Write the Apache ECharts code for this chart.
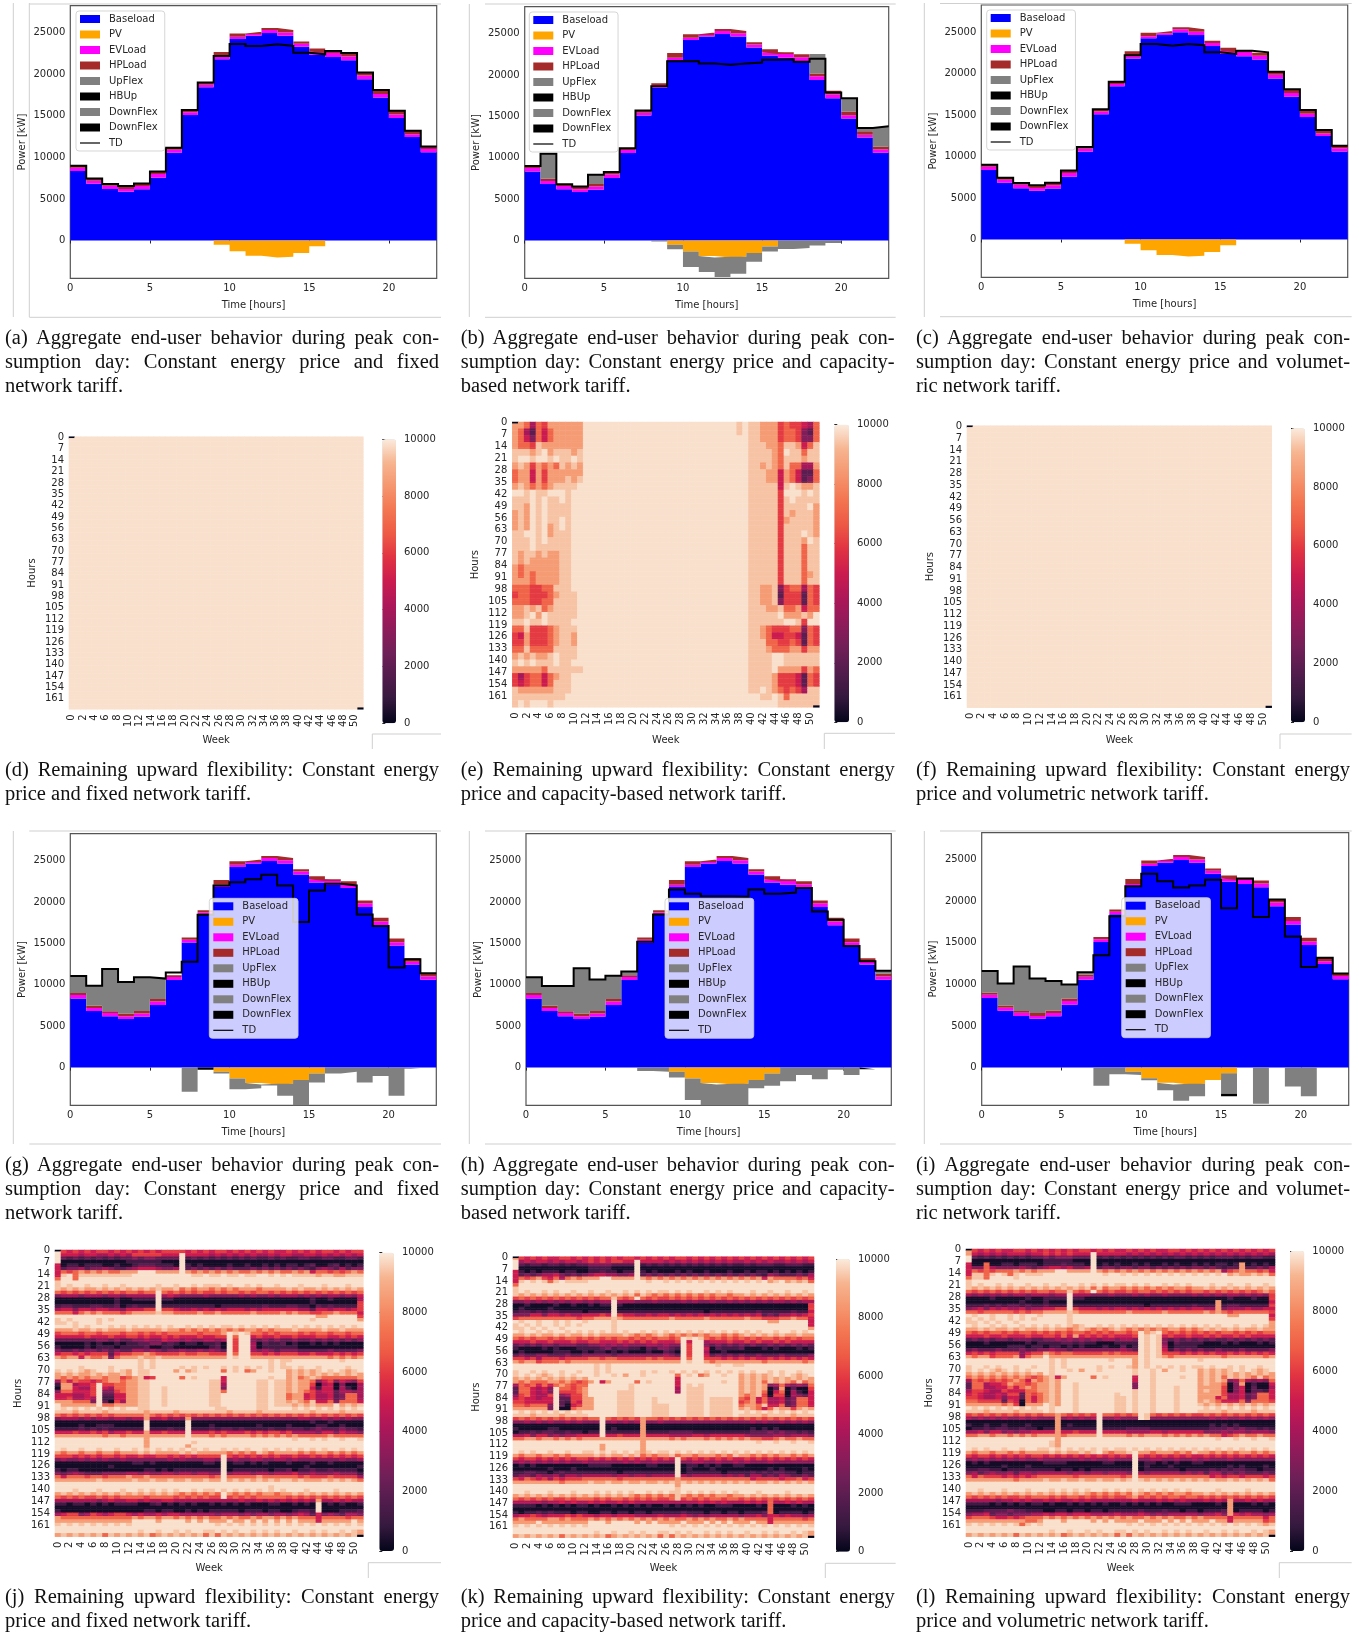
<!DOCTYPE html>
<html>
<head>
<meta charset="utf-8">
<title>Aggregate end-user behavior and remaining upward flexibility</title>
<script src="https://cdn.jsdelivr.net/npm/echarts@6/dist/echarts.min.js"></script>
<style>
html,body{margin:0;padding:0;background:#fff;}
#chart{position:absolute;left:0;top:0;width:1359px;height:1633px;}
.cap{position:absolute;font-family:"Liberation Serif",serif;font-size:20.5px;line-height:24px;height:24px;color:#111;text-align:justify;text-align-last:justify;}
.cap.last{text-align:left;text-align-last:left;white-space:nowrap;}
</style>
</head>
<body>
<div id="chart"></div>
<script>
/* ---------- hourly peak-day profile shared by all stacked panels (kW) ---------- */
const hours = ['0','1','2','3','4','5','6','7','8','9','10','11','12','13','14','15','16','17','18','19','20','21','22','23'];
const baseload = [8360,6830,6190,5870,6150,7560,10570,15100,18450,21800,24240,24640,24960,24640,23310,22350,22070,21700,19410,17200,14750,12460,10610,10610];
const evLoad   = [400,370,410,330,400,440,360,330,280,270,260,200,360,400,360,400,480,450,440,440,400,320,390,390];
const hpLoad   = [240,270,200,350,300,300,220,270,270,600,420,280,240,280,280,350,200,350,330,460,450,420,330,330];
const pvGen    = [0,0,0,0,0,0,0,0,0,-500,-1300,-1850,-2050,-1950,-1500,-700,0,0,0,0,0,0,0,0];
const noFlex   = [0,0,0,0,0,0,0,0,0,0,0,0,0,0,0,0,0,0,0,0,0,0,0,0];

const tdA = [9000,7450,6800,6550,6850,8300,11150,15700,19000,22200,23650,23400,23600,23400,22600,22400,22800,22550,20200,18100,15600,13200,11300,11300];
const tdB = [9000,10500,6800,6550,7950,8300,11150,15700,18650,21650,21700,21400,21250,21400,21500,21850,21900,21600,21950,17900,17200,13600,13800,13800];
const upB = [0,3030,0,0,1100,0,0,0,0,0,0,0,0,0,0,0,0,0,2350,0,1600,400,2450,2450];
const downB = [0,0,0,0,0,0,0,0,-120,-550,-1900,-1950,-2350,-2050,-1050,-600,-1000,-900,-600,-300,0,0,0,0];
const tdC = [9000,7450,6800,6550,6850,8300,11150,15700,19000,22200,23550,23350,23550,23400,22550,22350,22750,22550,20200,18100,15600,13200,11300,11300];
const tdG = [11050,9900,11900,10350,10900,10750,11500,12800,18450,22000,22400,22750,23300,22000,17600,21400,22200,22000,18500,17100,12100,13100,11400,11400];
const upG = [2050,2430,5100,3800,4050,2450,0,0,0,0,0,0,0,0,0,0,0,0,0,0,0,0,0,0];
const downG = [0,0,0,0,0,0,0,-2900,0,-200,-1300,-650,-100,-1450,-3200,-1100,-700,-500,-1800,-1000,-3400,-150,0,0];
const blackG = [0,0,0,0,0,0,0,0,-250,0,0,0,0,0,0,0,0,0,0,0,0,0,0,0];
const tdH = [10900,9850,9850,12000,10650,11100,11600,15200,18500,21500,21000,20700,20700,20650,21500,21000,21150,21700,18850,17850,14700,12850,11700,11700];
const upH = [1900,2380,3050,5450,3800,2800,450,0,0,0,0,0,0,0,0,0,0,0,0,0,0,0,370,370];
const downH = [0,0,0,0,0,0,0,-400,-500,-700,-2600,-2850,-2650,-2750,-1000,-1500,-1650,-900,-1400,-250,-900,0,0,0];
const blackH = [0,0,0,0,0,0,0,0,0,0,0,0,0,0,0,0,0,0,0,0,0,-200,0,0];
const tdI = [11600,10100,12150,10700,10400,10000,11450,13500,18200,21800,23300,22400,21650,21900,22600,19150,22750,18100,20200,15750,12100,13200,11300,11300];
const upI = [2600,2630,5350,4150,3550,1700,300,0,0,0,0,0,0,0,0,0,0,0,0,0,0,0,0,0];
const downI = [0,0,0,0,0,0,0,-2200,-800,-400,-250,-900,-1950,-1500,0,-2450,0,-4350,0,-2300,-3450,0,0,0];
const blackI = [0,0,0,0,0,0,0,0,0,0,0,0,0,0,0,-300,0,0,0,0,0,0,0,0];

const seriesNames = ['Baseload','PV','EVLoad','HPLoad','UpFlex','HBUp','DownFlex','DownFlex#2','TD'];
const powerTicks = [0,5000,10000,15000,20000,25000];
const colorbarTicks = [0,2000,4000,6000,8000,10000];

/* ---------- heat-map readings: one character per week (0-51), coded with the levels below ---------- */
const levelChars  = ['0','1','2','3','4','5','6','7','8','a','9'];
const levelValues = [300,1200,2000,3000,4000,5000,6000,7000,8500,9400,9830];
const zeroCells = [[0,0],[51,167]];
const flatRows = ['9999999999999 9999999999999 9999999999999 9999999999999'];
const heatE = [
'887476888888 9999999 9999999 9999999 99999a9 aa88867665 47',
'874275788888 9999999 9999999 9999999 99999a9 aa88867763 27',
'875375788888 9999999 9999999 9999999 9999999 aa88867763 37',
'8776a8888888 9999999 9999999 9999999 9999999 aaa887aa85 7a',
'aaa8a98aaa8a 9999999 9999999 9999999 9999999 aaaa879aa7 aa',
'a99a99a9aa9a 9999999 9999999 9999999 9999999 aaaa87aaa8 aa',
'8a868787a8a8 9999999 9999999 9999999 9999999 aa8a87a774 48',
'788586888888 9999999 9999999 9999999 9999999 aaa8858752 27',
'788586888a8a 9999999 9999999 9999999 9999999 aaa8858752 37',
'8a8787 8aaaa9 9999999 9999999 9999999 9999999 aaaaa5a9a8 8a',
'99a9aa99 9a99 9999999 9999999 9999999 9999999 aaaaa69 99a 9a',
'aaa9a9aa9a99 9999999 9999999 9999999 9999999 aaaaa6a9aa aa',
'aa89a9aaaa99 9999999 9999999 9999999 9999999 aaaaa6aaaa 98',
'8a89a9aaaa99 9999999 9999999 9999999 9999999 aaaaa6a8aa a8',
'8a89a9aa9a99 9999999 9999999 9999999 9999999 aaaaa68aaa a8',
'8a89a98a9a99 9999999 9999999 9999999 9999999 aaaaa6aaaa a8',
'aa99a98aaa99 9999999 9999999 9999999 9999999 aaaaa6aaa9 a8',
'aaa9a9aaaa99 9999999 9999999 9999999 9999999 aaaaa6aaa8 9a',
'aaa9aaaaaa99 9999999 9999999 9999999 9999999 aaaaa6aaa7 aa',
'a8aa8a88aa99 9999999 9999999 9999999 9999999 aaaaa6aaa7 aa',
'a8a88888aa99 9999999 9999999 9999999 9999999 aaaaa6aaa7 aa',
'878888 88aa99 9999999 9999999 9999999 9999999 aaaaa6aaa7 aa',
'878788 88aa99 9999999 9999999 9999999 9999999 aaaaa6aaa7 8a',
'888788 88aa99 9999999 9999999 9999999 9999999 aaaaa6aaa7 aa',
'777667 7aaa99 9999999 9999999 9999999 9999999 aa88a36774 76',
'677666 78aaa9 9999999 9999999 9999999 9999999 aa88a26662 76',
'777667 7aaaa9 9999999 9999999 9999999 9999999 aa88a36662 76',
'88a8a7 8aaaa9 9999999 9999999 9999999 9999999 aaa88a7785 77',
'88a98 9aaaaa9 9999999 9999999 9999999 9999999 aaaaa98 88a 89',
'aa9aa9aaaa99 9999999 9999999 9999999 9999999 aaaaaa99a6 99',
'77a666 78aaa9 9999999 9999999 9999999 9999999 aa87666773 76',
'658666 78aa89 9999999 9999999 9999999 9999999 aa87556652 76',
'668666 78aa89 9999999 9999999 9999999 9999999 aaa7766762 76',
'77a777 7aaaa9 9999999 9999999 9999999 9999999 aaa8777886 88',
'8a8a88 a9aaa9 9999999 9999999 9999999 9999999 aaaa99aaaa aa',
'a9a9aa a9aa99 9999999 9999999 9999999 9999999 aaaa99aaaa aa',
'888887 aaaaaa 9999999 9999999 9999999 9999999 aaaa988886 87',
'646775 78aa99 9999999 9999999 9999999 9999999 aaaa866652 76',
'656775 7aaa99 9999999 9999999 9999999 9999999 aaaa866652 76',
'a88888 8aaa99 9999999 9999999 9999999 9999999 aa9a876764 aa',
'aaaaaa aaa999 9999999 9999999 9999999 9999999 99aa9a7aaa aa',
'a9a999 a99999 9999999 9999999 9999999 9999999 99999aaaaa aa'
];
const heatJ = [
'9656565665656 5656566665656 5665656565655 6565656656566',
'9555455445454 6666655595555 4545454544545 5445545454545',
'9212121212122 3233222291212 1212121211212 1122112211221',
'9000000000001 1111100090000 0000000000000 0000000000000',
'5011011100100 1222111091010 0001001001010 1101200120101',
'5233423343223 4555433492323 2323222323232 3232134324233',
'5767878787788 8999888898787 8787877878787 7878577676787',
'5a97aaaaaaaaa 9999999999aa9 aa9aa9aa99a9a 9aaaa8aa88aaa',
'7997999999999 9999999999999 9999999999999 9999999999999',
'a999999999999 9999999999999 9999999999999 9999999999999',
'a9a99a99a99a9 9999a99a99a9a aa9a99a9a99a9 99a999a999a99',
'a8a8a88a8a8a8 a8a8a88a78788 7878788878888 a8a88a8a8a8a8',
'7676767676767 7677976767676 6767767677676 7676767676767',
'3444344434434 4444945433334 3333343433434 4434343443435',
'0000000000100 1111911000000 0000000000000 0000100100004',
'0000000000100 0000900000000 0000000000000 0000100000006',
'1221112211201 2111911111111 1011111112111 2211021211116',
'4553554554435 5566966544545 4545554545555 5544255455456',
'7775787877767 8888a88777787 7877777877778 7877667787775',
'9999999999999 9999999999999 9999999999999 9999988999996',
'a9a9999a9a999 9999999999999 9999999999999 9999a99999998',
'aa9a999a99999 9999999999999 9999999999999 9999999999999',
'999a9a999a9a9 a9a9a9a99a9a9 a9aa9a9a9a9a9 9a9a9a9a9a9a9',
'888a88a8a888a 88888a8878787 8787878878788 8a8888a88a888',
'6777677677767 7676767777767 7789a9a776767 7767677677677',
'5555565556556 6565565655565 5669799565565 5655566556565',
'2222222332322 3343354434334 4349699323232 2322323232323',
'0000010100101 1223312101101 1209699402112 0100101010000',
'1000010111011 1120011000000 1209699401111 1100000000000',
'3223233232322 4434323343343 4329699434323 3322222322223',
'5665656662566 7787666676677 6669799665656 6655655565656',
'8788587783788 8a88a88888888 8889a99888888 8888888787878',
'9999999999999 9a9a999999999 9999999999a9a a99999999a999',
'9999999999999 9a9a999999999 9999999999a9a 9999999999999',
'9999a9999a999 9a9a9999a9a9a 99a9a9a9a9a9a a9a99a9999a99',
'a9a9a8a99a9a8 9aa9999898a99 9979a97899a99 8a8a8a9a9a8a9',
'8a8a88a8a88a8 9aa9999999999 9999999999999 8a8a8a8a8a8a8',
'8787878878867 8a56999979a99 9959999999a99 8a78a87777778',
'4757665678878 8aa9999999999 aa599999aa9aa 8a88735635436',
'1884556966778 8aa9999999999 aa499999aa9aa 8a88604503004',
'0885446954778 8aa99a9999999 aa399999aa9aa 8a88515504104',
'3775556933678 8aa99a9999999 aa799999aa9aa 8a87645524434',
'5554456922558 8aa99a9999999 aa999999aa9aa 7885644523774',
'5564454911558 8aa99a9999999 aa999999aa9aa 7885644523774',
'8887773920648 8aa99a9999999 aa999999aa9aa 8a87a55737775',
'9888888977888 8aa99a9999999 aa999999aa9aa a8a8a88898a8a',
'9a9a9a9a9a9a9 9aa9999999999 9aa99999aa999 9a9a9a9a9a9a9',
'aaa8aaaa8aaaa aa8aaaa8aaaaa aaa8aaaa8aaaa aaaa8aaaa8aaa',
'7676767676777 7787676767676 7676767676767 6767676767676',
'3444343443443 4484453438333 3333333333333 3344334343433',
'0000000000000 0090000009000 0000000000000 0000100100000',
'0000100111000 0090000009000 1000000010000 1000011001000',
'1111212121111 1191112119111 2122121111211 2221232223221',
'5556556564556 5585565559555 6565556565665 6444435535443',
'8888888878878 8888888889888 7878888787878 7877777877777',
'9999999999999 9989999999999 9999999999999 9a99a9a99a99a',
'9999999999999 9989999999a99 9999999999999 9999999999999',
'9999999999999 9989999998999 9999999999999 9999999999999',
'9a99a99a99a99 a9a9a9a9a9a9a 99a9a9a99a9a9 a9a9a9a99a9a9',
'8788788788788 8a8a8888a8a88 88878787a8788 8878788787878',
'6665656566565 5655665656566 6696565656565 5655656565656',
'3433434343343 3333334343334 4393433443344 3433333334334',
'0000000000000 1101000000001 1090110101000 1000100100000',
'0000000001000 0000000000000 0090000000000 0001000000001',
'1011000000000 0011010111111 1190111111011 2011211211110',
'3234322233334 4343344344344 3393444344344 4533433343331',
'7577767767778 7787777777777 6797777787777 7767666766664',
'8888888a88888 a88a88a88a88a 8898a8a8a8a8a a8a888a8a8a87',
'9999999999999 9999999999999 9999999999999 9999999999999',
'9999999999999 9999999999999 9999999999a99 9999999999999',
'999a999a999a9 9a9a9a9a99a9a a9a9a9a9a9a9a 999a9999a9999',
'8a8a8a8a8a8a8 a8a8a8a878787 8798787878878 8a8a8a8a8a8a8',
'7676766767677 7767777676767 6696767677777 6767676767676',
'4444444345445 5454455444444 4444454454545 4545484454544',
'1101101010111 1001201010100 1010101000110 0101090101001',
'0000000000000 0000000000000 0000000000000 0000090000000',
'1000000000000 0011011001010 1111101110110 0122190001112',
'4566346545665 4544545544444 4344434344344 3454253432443',
'8777777777777 8788788787878 7787877878878 7877757777677',
'8888888888888 9999899998989 8889889898989 8988858888898',
'a9a9a9a9a9a9a 9999999999999 9a9a9a9a9a9a9 a9a9a9a9a9a9a',
'9999999999999 9999999999999 9999999999999 9999999999999',
'9999999999999 9a99a99a9a99a a9a9a99a9a9a9 9a99a9a99a9a8',
'8a8a8a8a7a8a8 a8a78a8a8a8a7 a7a8a8a8a8a8a 8a8a8a8a8a8a8'
];
const heatK = [
'8656565566565 6565656656565 6566565656565 6565656565656',
'9454554545545 6565665595555 4545454545454 4545454454545',
'9212212212122 3333222291212 1212121212121 1212221122211',
'9000000000000 1111000090000 0000000000000 0000000000000',
'5101011101100 1121101191010 0010100100010 0101101010101',
'5232344532323 4554433492323 2323232323232 3232143222324',
'5767865747878 8899888898787 8787878787878 7878587777675',
'5a9a9a7a9aaaa 9999999999a99 a9a9a9a9a9a9a 9a9a98a98a8a7',
'7999999999999 9999999999999 9999999999999 9999999999999',
'a999999999999 9999999999999 9999999999999 9999999999999',
'a9a99a9a99a99 a99a99a9a9a9a a9a9a99a9a9a9 99a99a99a99a9',
'a8a8a8a8a8a8a 8a8a8a8a7a878 7878787878878 8a8a8a8a8a8a8',
'6767676767676 7677a76797676 6767676767676 7676767676767',
'3343434343443 4344944433343 3334343343343 4343434434344',
'0010000100100 1011910000000 0000000000000 0000000000006',
'0100001000000 0000900000000 0000000000000 0000000000006',
'1221212211110 1111911111111 1111111011111 1112111112115',
'3335535545445 5565965544545 5454545454545 4545232445456',
'6777777777767 7888a87777777 7877777877777 7877666778775',
'9a99a99a9a99a 9999a99999999 9999999999999 9999988999995',
'a9a9a99a9a9a9 9999a99999999 9999999999999 9999999999995',
'aa9a9a99a9999 9999a99999999 9999999999999 9999999999998',
'9a99a9a99a9a9 a9a9a9a99a9a9 a9a9a9a9a9a9a 9a9a99a99a9a9',
'88a8a88a8a88a 8a8888a87878a 8787878788787 8a8a8a8a88a88',
'7676776767767 6767677676767 7679a9a767676 7676776767677',
'5556556555655 6655565656565 5569599455565 5656556565555',
'2323233233322 3343434333443 4339699323232 3232232323232',
'1000010100011 1123122110213 3219699502111 2000101000101',
'0100000111001 0110101000100 2109699400100 0000000000000',
'2322332223223 3333233333333 4329699523232 3223222322223',
'6656466656666 7767766666767 6669799666565 6565565656565',
'8788677787888 8888888888888 8889a99878888 8888788888878',
'9999999999999 9a9a999999999 999999999a99a a999999999999',
'9999999999999 9a9a999999999 9999999999999 9999999999999',
'a99a9a99a99a9 9a9a9999 9a9a9 9a9a9a9a9a9a9 a9a99a9a99a99',
'a9a9a8a9a9a99 9a99a9899a999 9979a97899a99 8a8a8a9a9a8a9',
'8a8a8a8a8a8a8 9999999999999 9959999999999 8a8a8a8a8a8a8',
'8787778878767 8958999979a99 9959999999a99 8a8a7a8a87a78',
'4767575787677 9999999a99999 9959a9a999999 8a8a834743437',
'2775453977678 9999999a99999 9949aaa999999 8a8a802802006',
'2775453966678 99999aaa99999 9949aaa999999 8a8a705704105',
'3675446934668 99999aaa99999 9999aaa999999 878a606604325',
'5655455922668 89999aaa999a9 9999aaa9aaaa9 7685744523775',
'6655555921658 89999aaa999a9 9999aaa9aaaa9 6785744523775',
'7767773920568 89999aaa999aa a999aaa9aaaa9 7887a55723775',
'8888883900788 89999aaa999aa a999aaa9aaaa9 8a8757a8868a8',
'9a9a9a9a9a9a9 99999aaa999aa a999aaa9aaaa9 9a9a9a9a9a9a9',
'aaa8aaaa8aaaa 99999aaa999aa a999aaa9aaaa9 aaaa8aaaa8aaa',
'6767676767676 7797676768776 7676767676767 6767676767676',
'3343434334343 3393434348334 3333333333333 3343433434343',
'0000000000000 0090000008000 0000000000000 0000000000000',
'1000001100000 0090100008000 0000000000000 0010101000000',
'0112122112110 1191111118111 1222211111111 1122232322121',
'4453553434455 5595565558555 5444455455555 5433334434443',
'7788788787878 8888888888888 8787888787878 7877667877877',
'9999999999999 9999999998999 9999999999999 999a99a99a99a',
'9999999999999 9989999998999 9999999999999 9999999999999',
'9999999999999 9989999998999 9999999999999 9999999999999',
'9a9a99a99a99a a9a9a9a9a8a9a a9a9a9a9a9a9a 9a9a9a9a9a9a9',
'8788788787888 8a8a88a8a7878 8a7887888787a 8878787887878',
'6566565656566 5656565656565 6596565656565 5656565656565',
'3434343434334 3333334343343 3393344334334 3433343333333',
'0101000000000 1111000000110 0090110101001 1000000000000',
'0000001000100 0000000000000 0090100010000 0000010100010',
'1122110121111 1111101111111 1190111111011 1121212211011',
'2332433424434 4444344344344 4494344444343 4244232432232',
'6576564656667 7777767777777 7787777777777 7756666566756',
'8888888878888 a88a88a88a88a 8a8a8a8a8a8a8 a8a88a8a8a8a8',
'9999999999999 9999999999999 9989999999999 9999999999999',
'9999999999999 9999999999999 99a9999999999 9999999999999',
'99a999a999a99 9a9a9a9a99a9a 9aa9a9a9a9a9a 999a9999a9999',
'8a8a8a8a8a8a8 a8a8a8a878787 87a8787878878 8a8a8a8a8a8a8',
'7676767667677 7676776767676 67a6767677677 6767676767676',
'4444434454544 5454454544444 4444445454544 4545474454544',
'1111010101011 0100101010100 1010101001110 0001070001010',
'0000000000000 0000000000000 0000000000000 0000070000000',
'1011212111011 0011011011011 1112111011011 0111270111101',
'4556545556565 5455455544445 4445434344444 3445355454434',
'7877778878777 8787878787878 7877878787787 8777757777767',
'8888988888888 9998999989898 8889888989898 8898858888888',
'a9a9a9a9a9a9a 9999999999999 9a9a9a9a9a9a9 a9a9a9a9a9a9a',
'9999999999999 9999999999999 9999999999999 9999999999999',
'9999999999999 9a99a99a9a99a a9a9a99a9a9a9 9a99a9a99a9a8',
'8a8a8a8a7a8a8 a8a78a8a8a8a7 a7a8a8a8a8a8a 8a8a8a8a8a8a8'
];
const heatL = [
'8656565566565 6565656656565 5656565566565 6565656565656',
'8545454555455 6565655595555 5454545454545 4545454545454',
'9212121212122 3233322291212 1212121212212 1212221212211',
'9000000000000 1111100090000 0000000000000 0000000000000',
'5007001101110 1112111090101 0010100101001 0101101801010',
'5337433334323 4554533492332 3323323232323 3232122822324',
'5767677787878 8899888898787 8787878787878 7878467877675',
'5aa7a9a7a9aaa 9999999999a99 a9a9a9a9a9a9a 9a9a98a88a8a7',
'7aa79999a9999 9999999999999 9999999999999 9999999999999',
'a999999999999 9999999999999 9999999999999 9999999999999',
'a9a99a9a99a99 a99a99a9a9a9a a9a9a99a9a9a9 99a99a99a99a9',
'a8a8a8a8a8a8a 8a8a8a8a7a788 7878787878878 8a8a8a8a8a8a8',
'7676767676767 7677a76797676 6767767676767 7676767676787',
'4343434344344 4344944433343 3343433433334 3434344343436',
'0000100000100 1111911000000 0000000000000 0000010001006',
'0000000001000 1000900000000 0000000000000 0008000000005',
'1112121221211 2111911111111 1111011111112 1118122111116',
'3453545445344 5566965554545 5454545454545 5448344454455',
'7767777767677 8888a87777777 7877777877777 7878767777776',
'9a99a99a9a99a 9999a99999999 9999999999999 9999988999995',
'a9a9a99a9a9a9 9999a99999999 9999999999999 9999999999996',
'aa9a9a99a9999 9999a99999999 9999999999999 9999999999998',
'9a99a9a99a9a9 a9a9a8a99a9a9 a9a9a9a9a9a9a 9a9a99a99a9a8',
'88a8a88a8a88a 8a8878a87878a 8787878788787 8a8a8a8a88a88',
'7676776767767 6767677676767 76798a9767676 7676776767677',
'5556556555655 6657585656565 5569a9a565565 5656556565555',
'2323233233322 3343434343443 4439a9a323232 3232232323232',
'0001000000101 1112212110001 1119a9a302111 1000101000101',
'0000000111011 0110101000100 2019a9a401111 0000000000000',
'2322232223223 3433233333333 4329a9a513232 3223222322223',
'5656566663566 8767766666767 6669a9a666565 6565565656565',
'8788677784788 9888888888888 8889a9a878888 8888788888878',
'9999999999999 9a9a9999999a9 9989a99999999 a999999999999',
'9999999999999 9a9a999999999 9989a99999999 9999999999999',
'a99a9a99a99a9 9a9a9999 9a9a9 9a89a9a9a9a9a a9a99a9a99a99',
'a9a9a8a9a9a99 9a99a9899a999 99a99a9899a99 8a8a8a9a9a8a9',
'8a8a8a8a8a8a8 9a99999999999 99a99a9999999 8a8a8a8a8a8a8',
'7878787878767 8a58999979a99 99599a9999a99 8a8a7a8a87a78',
'4767676787587 8a89999999999 99599a9999999 8a8a834743437',
'2774556877678 8a899a9999999 99399a9999999 8a88703801005',
'2774455757878 8a899a9999999 99399a999a999 8888603502004',
'4665446555778 8a899a9999999 99a99a999a999 8a88603502215',
'5654454662767 8a899a999999a 99a99a999a999 8888644523775',
'6654453552757 8a899a999999a a9a99a999a999 8885744523775',
'7766662650757 8a899a999999a a9a99a999a999 8a87555737776',
'8888887860888 9a899a999999a a9a99a999a999 a8a8a8a8a8a8a',
'9a9a9a9a9a9a9 9a999a999999a a9a99a999a999 9a9a9a9a9a9a9',
'aaa8aaaa8aaaa 9a999a999999a a9a99a999a999 aaaa8aaaa8aaa',
'6767676767676 7787676769776 7679a76767676 6767676767676',
'4343434334343 3383434349334 3339a33333333 3343433434343',
'0000000000000 0080000009000 0000000000000 0000000000000',
'1001001000100 0080100009000 0000000000000 0010101000000',
'0112122112110 1181111119111 1222211111111 1122232322121',
'4453553434455 5585565559555 5444455455555 5333434434443',
'7788788787878 8887888889888 8787888787878 7877567877877',
'9999999999999 9989999999999 9999999999999 999a99a99a99a',
'9999999999999 9a89999999999 9999999999999 9999999999999',
'9999999999999 9a89999999999 9999999999999 9999999999999',
'9a9a99a99a99a a9a9a9a9a9a9a a9a9a9a9a9a9a 9a9a9a9a9a9a9',
'8788788787888 8a8a88a8a9878 8a9887888787a 8878787887878',
'6566565656566 5656565656565 6596565656565 5656565656565',
'3434343434334 3333334343343 3393344334334 3433343333333',
'0101000000000 1111000000110 0090110101001 1000000000000',
'0000001000100 0000000000000 0090100010000 0000010100010',
'1122110111111 1101101011111 1190111111011 1121212211011',
'3423433424434 4444344344344 4394344444343 4244232322232',
'7576665656567 7777767777777 6797777777777 7756566566656',
'8888888878888 a88a88a88a88a 8a9a8a8a8a8a8 a8a88a8a8a8a7',
'9999999999999 9999999999999 9999999999999 9999999999999',
'9999999999999 9999999999999 9999999999999 9999999999999',
'99a999a999a99 9a9a9a9a99a9a 9a9a9a9a9a9a9 999a9999a9999',
'8a8a8a8a8a8a8 a8a8a8a878787 87a8787878878 8a8a8a8a8a8a8',
'7676767667677 7676776767676 6786767677677 6767676767676',
'4444434454544 5454454544444 4454445454544 4545484454544',
'1111010101011 0100101010100 1010101001110 0001080001010',
'0000000000000 0000000000000 0000000000000 0000080000000',
'1112222322111 0011011011011 1112111211011 0111280111101',
'3445233233344 5455455544445 4445434344444 3445385454434',
'6777655656777 8787878787878 7877878787787 8777757777757',
'8888888888778 9998999989898 8889888989898 8898858888867',
'a9a9a9a9a7a9a 9999999999999 9a9a9a9a9a9a9 a9a9a9a9a9a8a',
'9999999999999 9999999999999 9999999999999 9999999999999',
'9999999999999 9a99a99a9a99a a9a9a99a9a9a9 9a99a9a99a9a8',
'8a8a8a8a7a8a8 a8a78a8a8a8a7 a7a8a8a8a8a8a 8a8a8a8a8a8a8'
];

/* ---------- captions ---------- */
const captions = {
  a:['(a) Aggregate end-user behavior during peak con-','sumption day: Constant energy price and fixed','network tariff.'],
  b:['(b) Aggregate end-user behavior during peak con-','sumption day: Constant energy price and capacity-','based network tariff.'],
  c:['(c) Aggregate end-user behavior during peak con-','sumption day: Constant energy price and volumet-','ric network tariff.'],
  d:['(d) Remaining upward flexibility: Constant energy','price and fixed network tariff.'],
  e:['(e) Remaining upward flexibility: Constant energy','price and capacity-based network tariff.'],
  f:['(f) Remaining upward flexibility: Constant energy','price and volumetric network tariff.'],
  g:['(g) Aggregate end-user behavior during peak con-','sumption day: Constant energy price and fixed','network tariff.'],
  h:['(h) Aggregate end-user behavior during peak con-','sumption day: Constant energy price and capacity-','based network tariff.'],
  i:['(i) Aggregate end-user behavior during peak con-','sumption day: Constant energy price and volumet-','ric network tariff.'],
  j:['(j) Remaining upward flexibility: Constant energy','price and fixed network tariff.'],
  k:['(k) Remaining upward flexibility: Constant energy','price and capacity-based network tariff.'],
  l:['(l) Remaining upward flexibility: Constant energy','price and volumetric network tariff.']
};

/* ---------- layout and style ---------- */
const seriesColors = ['#0000ff','#ffa500','#ff00ff','#a52a2a','#808080','#000000','#808080','#000000','#000000'];
const rocket = ['#03051a','#35193e','#521c4c','#701f57','#8f1b5a','#ad1759','#cb1b4f','#e13342','#ee5a45','#f37651','#f5966f','#f6b48f','#faebdd'];
const TXT = '#262626', FONT = '"DejaVu Sans",sans-serif';

const stackPanels = [
 {box:[70.3,5.7,436.7,278.3], leg:[76,11],   td:tdA, up:noFlex, down:noFlex, black:noFlex},
 {box:[524.7,6.7,888.7,278.3], leg:[529.3,12], td:tdB, up:upB, down:downB, black:noFlex},
 {box:[981.3,5,1347.7,277.3], leg:[986.7,10], td:tdC, up:noFlex, down:noFlex, black:noFlex},
 {box:[70.3,833.7,436.3,1105.3], leg:[209.3,898.3], td:tdG, up:upG, down:downG, black:blackG},
 {box:[526,833.7,891.3,1105.3], leg:[665,898.3], td:tdH, up:upH, down:downH, black:blackH},
 {box:[981.7,832.7,1348.7,1105.3], leg:[1121.7,897.7], td:tdI, up:upI, down:downI, black:blackI}
];
const heatPanels = [
 {box:[69,436.7,363.3,709.3], bar:[382.3,439.3,396,723.3], rows:flatRows, span:168, weekGap:25.7},
 {box:[512.3,422,819.3,707.3], bar:[834.3,424.7,849,722.3], rows:heatE, span:4, weekGap:28},
 {box:[967,425.7,1271.7,707.7], bar:[1291,428.3,1305,722.3], rows:flatRows, span:168, weekGap:27.6},
 {box:[55,1250,363.3,1536.7], bar:[379.3,1252.7,394,1551], rows:heatJ, span:2, weekGap:27},
 {box:[513,1256.7,814,1537.7], bar:[836,1259,850,1551.7], rows:heatK, span:2, weekGap:26},
 {box:[966,1249,1275,1536.7], bar:[1290,1251,1304.3,1551], rows:heatL, span:2, weekGap:27}
];
/* pale crop-edge rules visible in the reference: [x1,y1,x2,y2] */
const edgeRules = [
 [13.3,3,13.3,317],[29.3,3,29.3,317],[29.3,4,441,4],[29.3,317.3,441,317.3],
 [469.3,4,469.3,317],[485,4,895.7,4],[485,317.3,895.7,317.3],
 [924.3,3,924.3,317],[940,3.5,1351.7,3.5],[940,316.7,1351.7,316.7],
 [13.3,831,13.3,1144],[29.3,831,441,831],[29.3,1144,441,1144],
 [469.3,831,469.3,1144],[485,831,895.7,831],[485,1144,895.7,1144],
 [924.3,831,924.3,1144],[940,831,1351.7,831],[940,1144,1351.7,1144],
 [372.3,734,441,734],[372.3,734,372.3,749],[824.3,733.3,895,733.3],[824.3,733.3,824.3,749],
 [1280,734,1351.7,734],[1280,734,1280,749],[368.3,1562.7,441,1562.7],[368.3,1562.7,368.3,1578],
 [825.3,1563.3,895.7,1563.3],[825.3,1563.3,825.3,1578],[1279.3,1562.7,1351.7,1562.7],[1279.3,1562.7,1279.3,1578]
];
const captionSpots = [
 ['a',5,336.5],['b',460.7,336.5],['c',916,336.5],
 ['d',5,768.5],['e',460.7,768.5],['f',916,768.5],
 ['g',5,1164.3],['h',460.7,1164.3],['i',916,1164.3],
 ['j',5,1595.7],['k',460.7,1595.7],['l',916,1595.7]
];

/* ---------- build option ---------- */
const grid=[], xAxis=[], yAxis=[], series=[], legend=[], visualMap=[];
const plain = v => String(v);
const gridOf = b => ({left:b[0],top:b[1],width:b[2]-b[0],height:b[3]-b[1],show:false});
/* hours with no flexibility are left empty, so no zero-height hairline is drawn */
const blocksOnly = vals => vals.map(v => v!==0 ? v : null);

stackPanels.forEach((p,pi)=>{
  const gi = grid.length;
  grid.push(Object.assign(gridOf(p.box),{show:true,borderColor:'#555',borderWidth:1.2,backgroundColor:'transparent'}));
  xAxis.push({type:'category',gridIndex:gi,data:hours,boundaryGap:false,name:'Time [hours]',nameLocation:'middle',nameGap:22,
    nameTextStyle:{fontSize:10,color:TXT,fontFamily:FONT},
    axisLine:{show:false},splitLine:{show:false},
    axisTick:{length:3,alignWithLabel:true,interval:4,lineStyle:{color:TXT}},
    axisLabel:{fontSize:10,color:TXT,fontFamily:FONT,margin:5,interval:4}});
  yAxis.push({type:'value',gridIndex:gi,min:-4550,max:28250,name:'Power [kW]',nameLocation:'middle',nameGap:43,
    nameTextStyle:{fontSize:10,color:TXT,fontFamily:FONT},
    axisLine:{show:false},splitLine:{show:false},
    axisTick:{length:3,lineStyle:{color:TXT},customValues:powerTicks},
    axisLabel:{fontSize:10,color:TXT,fontFamily:FONT,margin:5,customValues:powerTicks,formatter:plain}});
  const layers = [baseload,blocksOnly(pvGen),evLoad,hpLoad,blocksOnly(p.up),blocksOnly(noFlex),blocksOnly(p.down),blocksOnly(p.black)];
  layers.forEach((vals,li)=>{
    series.push({type:'line',name:seriesNames[li],xAxisIndex:gi,yAxisIndex:gi,stack:'panel'+pi,step:'end',
      symbol:'none',showSymbol:false,silent:true,animation:false,
      lineStyle:{width:0,color:seriesColors[li]},itemStyle:{color:seriesColors[li]},
      areaStyle:{color:seriesColors[li],opacity:1},
      data:vals});
  });
  series.push({type:'line',name:'TD',xAxisIndex:gi,yAxisIndex:gi,step:'end',symbol:'none',showSymbol:false,silent:true,animation:false,z:6,
    lineStyle:{width:2,color:'#000',join:'miter'},itemStyle:{color:'#000'},
    data:p.td});
  legend.push({orient:'vertical',left:p.leg[0],top:p.leg[1],padding:[3,7,3,4],itemWidth:20,itemHeight:8,itemGap:5.5,
    backgroundColor:'rgba(255,255,255,0.8)',borderColor:'rgba(204,204,204,0.8)',borderWidth:1,borderRadius:3,
    selectedMode:false,z:20,
    textStyle:{fontSize:10,color:TXT,fontFamily:FONT,lineHeight:10,padding:[0,0,0,4]},
    formatter:n=>n.replace('#2',''),
    data:seriesNames.map((n,i)=>({name:n,
      icon:n==='TD'?'path://M0 0H20V1.2H0Z':'rect',
      itemStyle:{color:seriesColors[i],borderWidth:0}}))});
});

heatPanels.forEach(p=>{
  const gi = grid.length;
  grid.push(gridOf(p.box));
  xAxis.push({type:'category',gridIndex:gi,data:Array.from({length:52},(_,i)=>String(i)),name:'Week',nameLocation:'middle',nameGap:p.weekGap,
    nameTextStyle:{fontSize:10,color:TXT,fontFamily:FONT},
    axisLine:{show:false},splitLine:{show:false},
    axisTick:{length:3,alignWithLabel:true,interval:1,lineStyle:{color:TXT}},
    axisLabel:{fontSize:10,color:TXT,fontFamily:FONT,interval:1,rotate:90,margin:5}});
  yAxis.push({type:'category',gridIndex:gi,inverse:true,data:Array.from({length:168},(_,i)=>String(i)),name:'Hours',nameLocation:'middle',nameGap:32,
    nameTextStyle:{fontSize:10,color:TXT,fontFamily:FONT},
    axisLine:{show:false},splitLine:{show:false},
    axisTick:{length:3,alignWithLabel:true,interval:6,lineStyle:{color:TXT}},
    axisLabel:{fontSize:10,color:TXT,fontFamily:FONT,interval:6,margin:5}});
  const cells=[];
  p.rows.forEach((row,ri)=>{
    const weeks=row.replace(/ /g,'');
    for(let hh=0;hh<p.span;hh++){
      const hour=ri*p.span+hh;
      for(let w=0;w<52;w++){
        const isZero=zeroCells.some(z=>z[0]===w&&z[1]===hour);
        const lv=levelChars.indexOf(weeks[w]===undefined?'9':weeks[w]);
        cells.push([w,hour,isZero?0:levelValues[lv]]);
      }
    }
  });
  const si=series.length;
  series.push({type:'heatmap',xAxisIndex:gi,yAxisIndex:gi,data:cells,silent:true,animation:false,progressive:0,
    itemStyle:{borderWidth:0},emphasis:{disabled:true}});
  visualMap.push({type:'continuous',min:0,max:10000,seriesIndex:si,show:true,calculable:false,hoverLink:false,
    left:p.bar[0],top:p.bar[1],itemWidth:p.bar[2]-p.bar[0],itemHeight:p.bar[3]-p.bar[1],padding:0,
    inRange:{color:rocket}});
  const bi=grid.length;
  grid.push(gridOf(p.bar));
  xAxis.push({type:'value',gridIndex:bi,show:false,min:0,max:1});
  yAxis.push({type:'value',gridIndex:bi,position:'right',min:0,max:10000,
    axisLine:{show:false},splitLine:{show:false},
    axisTick:{length:3,lineStyle:{color:TXT},customValues:colorbarTicks},
    axisLabel:{fontSize:10,color:TXT,fontFamily:FONT,margin:8,customValues:colorbarTicks,formatter:plain}});
});

const chart = echarts.init(document.getElementById('chart'),null,{renderer:'canvas'});
chart.setOption({animation:false,backgroundColor:'#fff',grid,xAxis,yAxis,series,legend,visualMap,tooltip:{show:false},
  graphic:edgeRules.map(r=>({type:'line',silent:true,shape:{x1:r[0],y1:r[1],x2:r[2],y2:r[3]},style:{stroke:'#cfcfcf',lineWidth:1}}))});

/* ---------- caption text ---------- */
captionSpots.forEach(s=>{
  const lines=captions[s[0]];
  lines.forEach((t,i)=>{
    const d=document.createElement('div');
    d.className='cap'+(i===lines.length-1?' last':'');
    d.textContent=t;
    d.style.left=s[1]+'px';
    d.style.top=(s[2]-12+i*24)+'px';
    d.style.width='434px';
    document.body.appendChild(d);
  });
});
</script>
</body>
</html>
